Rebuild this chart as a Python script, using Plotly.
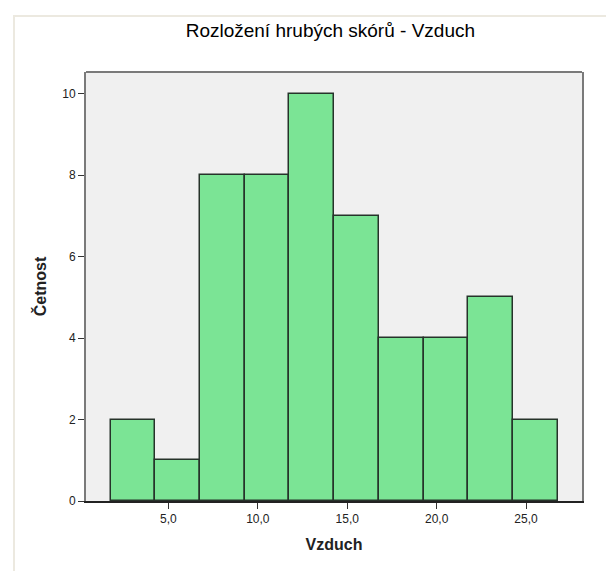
import plotly.graph_objects as go

# Histogram data
counts = [2, 1, 8, 8, 10, 7, 4, 4, 5, 2]
bin_start = 1.77
bin_width = 2.5
x_tick_vals = [5, 10, 15, 20, 25]
y_tick_vals = [0, 2, 4, 6, 8, 10]

centers = [bin_start + bin_width * (i + 0.5) for i in range(len(counts))]

FONT = "Arial, 'Liberation Sans', sans-serif"

fig = go.Figure(
    go.Bar(
        x=centers,
        y=counts,
        width=[bin_width] * len(counts),
        marker=dict(color="#7be495", line=dict(color="#26332a", width=1.5)),
        hoverinfo="x+y",
    )
)

fig.update_layout(
    width=614,
    height=571,
    margin=dict(l=78, r=40, t=64, b=78),
    paper_bgcolor="white",
    plot_bgcolor="#f0f0f0",
    separators=", ",
    showlegend=False,
    bargap=0,
    title=dict(
        text="Rozložení hrubých skórů - Vzduch",
        x=0.525,
        xanchor="center",
        y=1 - 22 / 571,
        yanchor="middle",
        font=dict(family=FONT, size=19, color="black"),
    ),
    font=dict(family=FONT, color="black"),
)

fig.update_xaxes(
    range=[0.39, 28.13],
    tickvals=x_tick_vals,
    tickformat=".1f",
    ticks="outside",
    ticklen=6,
    tickcolor="#333",
    tickfont=dict(size=12, color="#222"),
    showgrid=False,
    zeroline=False,
    showline=True,
    linecolor="#222",
    linewidth=1.5,
    title=dict(text="<b>Vzduch</b>", font=dict(size=16, color="#222"), standoff=14),
    automargin=False,
)

fig.update_yaxes(
    range=[0, 10.53],
    tickvals=y_tick_vals,
    ticks="outside",
    ticklen=6,
    tickcolor="#333",
    tickfont=dict(size=12, color="#222"),
    showgrid=False,
    zeroline=False,
    showline=True,
    mirror=True,
    linecolor="#7a7a7a",
    linewidth=2,
    title=dict(text="<b>Četnost</b>", font=dict(size=16, color="#222"), standoff=12),
    automargin=False,
)

# top frame line of the plot area
fig.add_shape(type="line", xref="x domain", yref="y domain",
              x0=0, x1=1, y0=1, y1=1, line=dict(color="#7a7a7a", width=2), layer="above")

# outer chart frame (light)
fig.add_shape(type="rect", xref="paper", yref="paper",
              x0=(6 - 78) / 496, x1=(640 - 78) / 496,
              y0=(493 - 600) / 429, y1=(493 - 8) / 429,
              line=dict(color="#ece9e0", width=2), layer="below")

fig.write_html("out.html")
